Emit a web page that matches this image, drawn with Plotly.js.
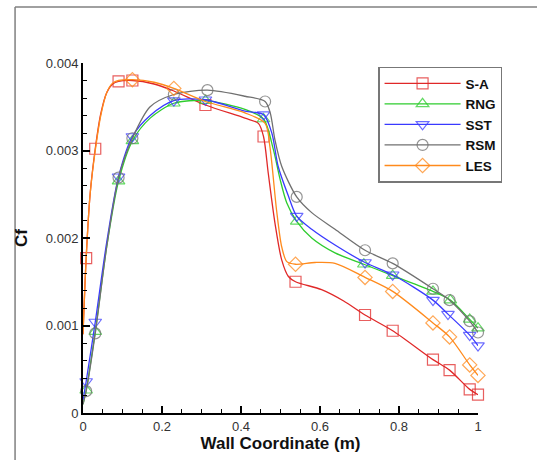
<!DOCTYPE html>
<html>
<head>
<meta charset="utf-8">
<script src="https://cdn.plot.ly/plotly-3.0.1.min.js"></script>
<style>
  html, body { margin: 0; padding: 0; background: #fff; }
  #chart { width: 537px; height: 460px; }
</style>
</head>
<body>
<div id="chart"></div>
<script>
// ---- data ----
const seriesNames = ['S-A', 'RNG', 'SST', 'RSM', 'LES'];

const xSA = [0, 0.008, 0.018, 0.031, 0.045, 0.06, 0.075, 0.09, 0.125, 0.18, 0.23, 0.31, 0.41, 0.444, 0.457, 0.469, 0.486, 0.503, 0.52, 0.538, 0.604, 0.66, 0.714, 0.784, 0.886, 0.928, 0.979, 1.0];
const ySA = [0.0009, 0.00177, 0.0025, 0.00302, 0.00342, 0.00366, 0.00376, 0.00379, 0.0038, 0.00376, 0.00368, 0.00352, 0.00337, 0.00331, 0.00316, 0.00274, 0.00217, 0.00175, 0.00156, 0.0015, 0.00141, 0.00128, 0.00112, 0.00094, 0.00061, 0.00049, 0.00027, 0.00021];
const mSA = [1, 3, 7, 8, 11, 14, 19, 22, 23, 24, 25, 26, 27];

const xRNG = [0, 0.008, 0.031, 0.06, 0.09, 0.125, 0.17, 0.23, 0.31, 0.41, 0.457, 0.482, 0.499, 0.516, 0.541, 0.579, 0.638, 0.711, 0.784, 0.886, 0.93, 0.979, 1.0];
const yRNG = [0.0001, 0.00026, 0.00093, 0.0019, 0.00265, 0.00311, 0.00337, 0.00354, 0.00357, 0.00347, 0.00336, 0.00301, 0.00267, 0.0024, 0.00219, 0.002, 0.00183, 0.0017, 0.00157, 0.00139, 0.00129, 0.00107, 0.00097];
const mRNG = [1, 2, 4, 5, 7, 8, 10, 14, 17, 18, 19, 20, 21, 22];

const xSST = [0, 0.008, 0.031, 0.06, 0.09, 0.125, 0.17, 0.23, 0.31, 0.41, 0.457, 0.478, 0.494, 0.52, 0.541, 0.579, 0.638, 0.714, 0.784, 0.886, 0.924, 0.979, 1.0];
const ySST = [0.00015, 0.00036, 0.00104, 0.00195, 0.0027, 0.00316, 0.0034, 0.00357, 0.00358, 0.00345, 0.00341, 0.0032, 0.00282, 0.00248, 0.00225, 0.0021, 0.00192, 0.00172, 0.00158, 0.00129, 0.00113, 0.00089, 0.00077];
const mSST = [1, 2, 4, 5, 7, 8, 10, 14, 17, 18, 19, 20, 21, 22];

const xRSM = [0, 0.008, 0.031, 0.06, 0.09, 0.125, 0.17, 0.23, 0.315, 0.41, 0.461, 0.474, 0.486, 0.503, 0.541, 0.579, 0.638, 0.714, 0.784, 0.886, 0.928, 0.979, 1.0];
const yRSM = [0.0001, 0.00025, 0.00091, 0.0019, 0.00269, 0.00314, 0.0035, 0.00364, 0.00369, 0.00362, 0.00356, 0.00343, 0.00312, 0.00282, 0.00247, 0.00229, 0.0021, 0.00186, 0.00171, 0.00142, 0.00129, 0.00105, 0.00092];
const mRSM = [1, 2, 4, 5, 7, 8, 10, 14, 17, 18, 19, 20, 21, 22];

const xLES = [0, 0.008, 0.018, 0.031, 0.045, 0.06, 0.075, 0.09, 0.125, 0.18, 0.23, 0.31, 0.41, 0.461, 0.473, 0.49, 0.503, 0.516, 0.538, 0.587, 0.638, 0.714, 0.784, 0.886, 0.928, 0.979, 1.0];
const yLES = [0.0009, 0.00177, 0.0025, 0.003, 0.0034, 0.00366, 0.00377, 0.0038, 0.00381, 0.00378, 0.00371, 0.00356, 0.00343, 0.00331, 0.00305, 0.00232, 0.0019, 0.00173, 0.0017, 0.00172, 0.00171, 0.00155, 0.00139, 0.00103, 0.00087, 0.00055, 0.00043];
const mLES = [8, 10, 18, 21, 22, 23, 24, 25, 26];

const xTickVals = [0, 0.2, 0.4, 0.6, 0.8, 1];
const xTickText = ['0', '0.2', '0.4', '0.6', '0.8', '1'];
const yTickVals = [0, 0.001, 0.002, 0.003, 0.004];
const yTickText = ['0', '0.001', '0.002', '0.003', '0.004'];

// ---- styles ----
const styles = [
  { color: '#e02828', symbol: 'square-open' },
  { color: '#2ecc2e', symbol: 'triangle-up-open' },
  { color: '#3a3aff', symbol: 'triangle-down-open' },
  { color: '#707070', symbol: 'circle-open' },
  { color: '#ff8a1c', symbol: 'diamond-open' }
];
const allData = [[xSA, ySA, mSA], [xRNG, yRNG, mRNG], [xSST, ySST, mSST], [xRSM, yRSM, mRSM], [xLES, yLES, mLES]];

const MS = 11;
const LW = 1.3;
const traces = [];
allData.forEach((d, i) => {
  const sizes = d[0].map((_, k) => d[2].includes(k) ? MS : 0);
  traces.push({
    type: 'scatter',
    mode: 'lines+markers',
    name: seriesNames[i],
    legendgroup: seriesNames[i],
    showlegend: false,
    x: d[0], y: d[1],
    cliponaxis: false,
    line: { color: styles[i].color, width: LW, shape: 'spline', smoothing: 0.8 },
    marker: { symbol: styles[i].symbol, size: sizes, color: styles[i].color, opacity: 0.75, line: { width: 1.2, color: styles[i].color } }
  });
});
// legend entries (no data points of their own)
allData.forEach((d, i) => {
  traces.push({
    type: 'scatter',
    mode: 'lines+markers',
    name: seriesNames[i],
    legendgroup: seriesNames[i],
    showlegend: true,
    x: [null], y: [null],
    line: { color: styles[i].color, width: LW },
    marker: { symbol: styles[i].symbol, size: MS, color: styles[i].color, opacity: 0.75, line: { width: 1.2, color: styles[i].color } }
  });
});

const layout = {
  width: 537, height: 460,
  margin: { l: 83, r: 59, t: 63, b: 47 },
  paper_bgcolor: '#fff', plot_bgcolor: '#fff',
  font: { family: 'Arial, Liberation Sans, sans-serif', color: '#222', size: 13 },
  showlegend: true,
  legend: {
    x: 0.747, y: 0.99, xanchor: 'left', yanchor: 'top',
    bgcolor: '#fff', bordercolor: '#777', borderwidth: 1.5,
    font: { family: 'Arial, Liberation Sans, sans-serif', size: 13.5, color: '#111', weight: 'bold' },
    itemwidth: 76, tracegroupgap: 0
  },
  xaxis: {
    range: [0, 1], showgrid: false, zeroline: false,
    showline: true, linecolor: '#000', linewidth: 2,
    ticks: 'inside', ticklen: 7, tickwidth: 2, tickcolor: '#000',
    tickmode: 'array', tickvals: xTickVals, ticktext: xTickText,
    tickfont: { size: 13, color: '#333' },
    minor: { dtick: 0.05, tick0: 0, ticks: 'inside', ticklen: 4, tickwidth: 1, tickcolor: '#000', showgrid: false },
    title: { text: 'Wall Coordinate (m)', font: { size: 17, color: '#111', weight: 'bold' }, standoff: 0 }
  },
  yaxis: {
    range: [0, 0.004], showgrid: false, zeroline: false,
    showline: true, linecolor: '#000', linewidth: 2,
    ticks: 'inside', ticklen: 7, tickwidth: 2, tickcolor: '#000',
    tickmode: 'array', tickvals: yTickVals, ticktext: yTickText,
    tickfont: { size: 13, color: '#333' },
    minor: { dtick: 0.0002, tick0: 0, ticks: 'inside', ticklen: 4, tickwidth: 1, tickcolor: '#000', showgrid: false },
    title: { text: 'Cf', font: { size: 17, color: '#111', weight: 'bold' }, standoff: 14 }
  },
  shapes: [
    { type: 'line', xref: 'paper', yref: 'paper', x0: -0.172, x1: 1.2, y0: 1.16, y1: 1.16, line: { color: '#808080', width: 1.5 } },
    { type: 'line', xref: 'paper', yref: 'paper', x0: -0.172, x1: -0.172, y0: 1.16, y1: -0.15, line: { color: '#808080', width: 1.5 } }
  ]
};

Plotly.newPlot('chart', traces, layout, { displayModeBar: false, staticPlot: true });
</script>
</body>
</html>
